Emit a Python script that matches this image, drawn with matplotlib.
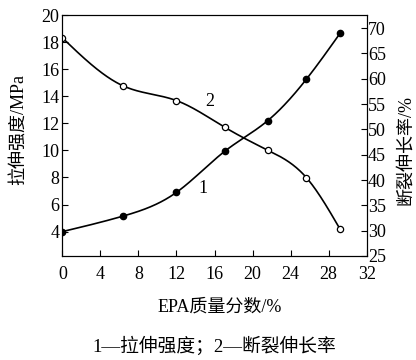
import numpy as np
import matplotlib
matplotlib.use("Agg")
import matplotlib.pyplot as plt

plt.rcParams['font.family'] = ['Liberation Serif', 'Noto Sans CJK SC']
plt.rcParams['axes.unicode_minus'] = False

# Data
epa = [0, 6.4, 12.0, 17.1, 21.6, 25.65, 29.2]
tensile_strength = [4.0, 5.15, 6.9, 9.95, 12.2, 15.25, 18.65]
elongation = [68.1, 58.6, 55.7, 50.4, 45.9, 40.5, 30.3]

x_ticks = [0, 4, 8, 12, 16, 20, 24, 28, 32]
left_ticks = [4, 6, 8, 10, 12, 14, 16, 18, 20]
right_ticks = [25, 30, 35, 40, 45, 50, 55, 60, 65, 70]


def natural_spline(x, y, n=300):
    x = np.asarray(x, float)
    y = np.asarray(y, float)
    m = len(x)
    h = np.diff(x)
    A = np.zeros((m, m))
    b = np.zeros(m)
    A[0, 0] = 1
    A[-1, -1] = 1
    for i in range(1, m - 1):
        A[i, i - 1] = h[i - 1]
        A[i, i] = 2 * (h[i - 1] + h[i])
        A[i, i + 1] = h[i]
        b[i] = 3 * ((y[i + 1] - y[i]) / h[i] - (y[i] - y[i - 1]) / h[i - 1])
    c = np.linalg.solve(A, b)
    bb = np.zeros(m - 1)
    d = np.zeros(m - 1)
    for i in range(m - 1):
        bb[i] = (y[i + 1] - y[i]) / h[i] - h[i] * (2 * c[i] + c[i + 1]) / 3
        d[i] = (c[i + 1] - c[i]) / (3 * h[i])
    xs = np.linspace(x[0], x[-1], n)
    idx = np.clip(np.searchsorted(x, xs) - 1, 0, m - 2)
    dx = xs - x[idx]
    ys = y[idx] + bb[idx] * dx + c[idx] * dx ** 2 + d[idx] * dx ** 3
    return xs, ys


fig = plt.figure(figsize=(4.16, 3.6), dpi=100)
ax = fig.add_axes([0.1498, 0.2889, 0.8815 - 0.1498, 0.9583 - 0.2889])
ax2 = ax.twinx()

lw = 1.2
xs, ys = natural_spline(epa, tensile_strength)
ax.plot(xs, ys, color='black', lw=lw)
ax.plot(epa, tensile_strength, 'o', color='black', ms=4.5, mfc='black', mec='black')

xs2, ys2 = natural_spline(epa, elongation)
ax2.plot(xs2, ys2, color='black', lw=lw)
ax2.plot(epa, elongation, 'o', color='black', ms=4.5, mfc='white', mec='black', mew=0.9)

ax.set_xlim(0, 32)
ax.set_ylim(2.2, 20)
ax2.set_ylim(25, 72.6)

ax.set_xticks(x_ticks)
ax.set_yticks(left_ticks)
ax2.set_yticks(right_ticks)

ax.tick_params(axis='x', direction='in', length=4, width=0.8, labelsize=13, pad=7)
ax.tick_params(axis='y', direction='in', length=4, width=0.8, labelsize=13, pad=2)
ax2.tick_params(axis='y', direction='in', length=4, width=0.8, labelsize=13, pad=1)

for a in (ax, ax2):
    for s in a.spines.values():
        s.set_linewidth(0.8)

ax.set_xlabel('EPA质量分数/%', fontsize=13)
ax.xaxis.set_label_coords(0.518, -0.178)
ax.set_ylabel('拉伸强度/MPa', fontsize=13, va='center')
ax.yaxis.set_label_coords(-0.1455, 0.523)
ax2.set_ylabel('断裂伸长率/%', fontsize=13, rotation=90, va='center', ha='center')
ax2.yaxis.set_label_coords(1.128, 0.44)

ax.text(14.8, 7.2, '1', fontsize=13, ha='center', va='center')
ax.text(15.5, 13.6, '2', fontsize=13, ha='center', va='center')

fig.text(0.515, 1 - 346 / 360, '1—拉伸强度；2—断裂伸长率', fontsize=13.5, ha='center', va='center')

fig.savefig('out.png', dpi=100)
